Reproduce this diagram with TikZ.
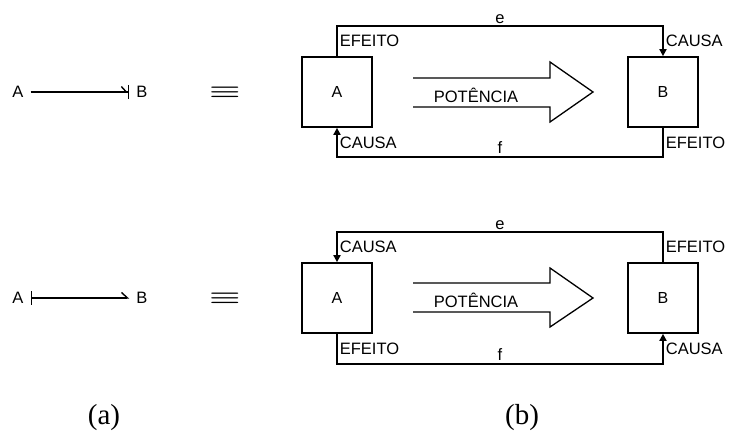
\documentclass[tikz,border=0pt]{standalone}
\usepackage{amsmath}
\usepackage{fontspec}
\setmainfont{Liberation Serif}
\setsansfont{Liberation Sans}
\usetikzlibrary{positioning, arrows.meta, calc}

\begin{document}
\begin{tikzpicture}[
    x=1pt, y=-1pt,
    box/.style={
        draw,
        line width=1.7pt,
        minimum width=70pt,
        minimum height=70pt,
        font=\sffamily\fontsize{16}{18}\selectfont,
        inner sep=0pt
    },
    lbl/.style={font=\sffamily\fontsize{16.5}{18}\selectfont, inner sep=2pt},
    flow/.style={line width=1.7pt, -{Triangle[length=7pt,width=7pt]}},
    power/.style={line width=1.3pt},
    link/.style={line width=1.4pt, shorten <=5pt, shorten >=5pt},
    same/.style={inner sep=0pt, font=\fontsize{22}{22}\selectfont},
    tag/.style={font=\fontsize{29}{32}\selectfont}
]
\useasboundingbox (0,0) rectangle (734,435);

% --- (a) superior ---
\node[lbl] (a1) at (18,92) {A};
\node[lbl] (b1) at (142,92) {B};
\draw[link, -{Straight Barb[harpoon,length=5pt,width=11pt]Bar[width=14pt]}] (a1) -- (b1);
\node[same] (eq1) at (225,92) {\scalebox{1.7}[1]{$\boldsymbol{\equiv}$}};

% --- (b) superior ---
\node[box] (A1) at (337,92) {A};
\node[box] (B1) at (663,92) {B};
\draw[flow] (A1.north) -- node[lbl, right] {EFEITO} ++(0,-30)
    -| node[lbl, pos=0.25, above] {e} node[lbl, pos=0.75, right] {CAUSA} (B1.north);
\draw[flow] (B1.south) -- node[lbl, right] {EFEITO} ++(0,29)
    -| node[lbl, pos=0.25, above] {f} node[lbl, pos=0.75, right] {CAUSA} (A1.south);
\draw[power] (413,78) -- (550,78) -- (550,62) -- (593,92) -- (550,122) -- (550,107) -- (413,107);
\node[lbl] (p1) at (476,95) {POTÊNCIA};

% --- (a) inferior ---
\node[lbl] (a2) at (18,298) {A};
\node[lbl] (b2) at (142,298) {B};
\draw[link, {Bar[width=14pt]}-{Straight Barb[harpoon,length=6pt,width=11pt]}] (a2) -- (b2);
\node[same] (eq2) at (225,298) {\scalebox{1.7}[1]{$\boldsymbol{\equiv}$}};

% --- (b) inferior ---
\node[box] (A2) at (337,298) {A};
\node[box] (B2) at (663,298) {B};
\draw[flow] (B2.north) -- node[lbl, right] {EFEITO} ++(0,-30)
    -| node[lbl, pos=0.25, above] {e} node[lbl, pos=0.75, right] {CAUSA} (A2.north);
\draw[flow] (A2.south) -- node[lbl, right] {EFEITO} ++(0,30)
    -| node[lbl, pos=0.25, above] {f} node[lbl, pos=0.75, right] {CAUSA} (B2.south);
\draw[power] (413,283) -- (550,283) -- (550,268) -- (593,298) -- (550,327) -- (550,312) -- (413,312);
\node[lbl] (p2) at (476,300) {POTÊNCIA};

% --- legendas ---
\node[tag] (ta) at (104,418) {(a)};
\node[tag] (tb) at (522,418) {(b)};

\end{tikzpicture}
\end{document}
